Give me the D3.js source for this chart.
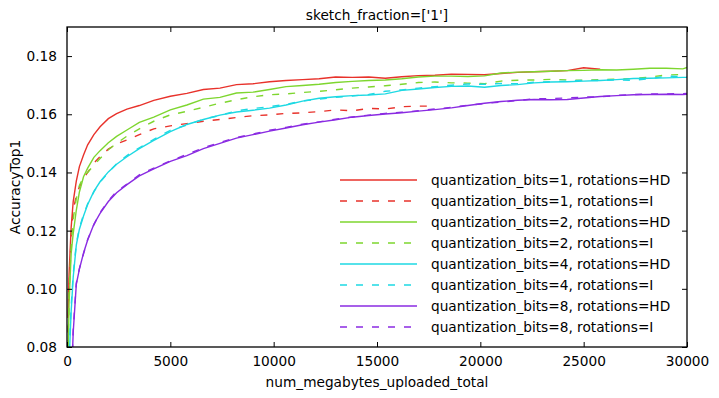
<!DOCTYPE html>
<meta charset="utf-8">
<style>
  body { margin: 0; background: #fff; }
  text { font-family: "DejaVu Sans", sans-serif; fill: #000; }
</style>
<body>
<div id="chart"></div>
<script src="https://d3js.org/d3.v7.min.js"></script>
<script>
// x positions (num_megabytes_uploaded_total) shared by all series
var xGrid = [50, 100, 200, 300, 450, 600, 800, 1000, 1300, 1600, 2000, 2400, 2900, 3500, 4200,
  5000, 5800, 6600, 7400, 8200, 9000, 9800, 10600, 11400, 12200, 13000, 13800, 14600, 15400,
  16200, 17000, 17800, 18600, 19400, 20200, 21000, 21800, 22600, 23400, 24200, 25000, 25800,
  26600, 27400, 28200, 29000, 29800, 30000];

// AccuracyTop1 per series
var bits1HD = [0.090, 0.105, 0.121, 0.130, 0.137, 0.142, 0.146, 0.1495, 0.153, 0.1557, 0.1585, 0.1602,
  0.1618, 0.1630, 0.1648, 0.1662, 0.1672, 0.1685, 0.1690, 0.1702, 0.1705, 0.1712, 0.1716, 0.1719,
  0.1722, 0.1728, 0.1727, 0.1728, 0.1724, 0.1729, 0.1733, 0.1734, 0.1738, 0.1737, 0.1736, 0.1740,
  0.1744, 0.1746, 0.1748, 0.1750, 0.1760, 0.1755];
var bits1I = [0.085, 0.100, 0.118, 0.127, 0.132, 0.135, 0.138, 0.140, 0.1432, 0.1455, 0.148, 0.1498,
  0.1512, 0.1530, 0.1550, 0.1560, 0.1568, 0.1576, 0.1582, 0.1589, 0.1595, 0.1598, 0.1603, 0.1605,
  0.1609, 0.1615, 0.1612, 0.1620, 0.1618, 0.1626, 0.1628, 0.1628];
var bits2HD = [0.075, 0.095, 0.112, 0.119, 0.127, 0.1333, 0.1385, 0.1415, 0.1452, 0.1475, 0.1502,
  0.1524, 0.1546, 0.1572, 0.1590, 0.1615, 0.1632, 0.1652, 0.1658, 0.1673, 0.1676, 0.1685, 0.1695,
  0.1699, 0.1703, 0.1709, 0.1713, 0.1716, 0.1718, 0.1722, 0.1728, 0.1731, 0.1731, 0.1730, 0.1732,
  0.1742, 0.1745, 0.1746, 0.1748, 0.1750, 0.1751, 0.1753, 0.1752, 0.1755, 0.1758, 0.1758, 0.1756, 0.1761];
var bits2I = [0.080, 0.098, 0.115, 0.124, 0.131, 0.1355, 0.1385, 0.1400, 0.1425, 0.1448, 0.1478,
  0.1500, 0.1525, 0.1550, 0.1576, 0.1598, 0.1610, 0.1624, 0.1638, 0.1650, 0.1660, 0.1667, 0.1670,
  0.1675, 0.1679, 0.1684, 0.1690, 0.1694, 0.1698, 0.1703, 0.1709, 0.1711, 0.1708, 0.1707, 0.1705,
  0.1714, 0.1717, 0.1718, 0.1720, 0.1718, 0.1717, 0.1719, 0.1721, 0.1723, 0.1728, 0.1735, 0.1737, 0.1738];
var bits4HD = [0.060, 0.075, 0.092, 0.104, 0.115, 0.1205, 0.125, 0.129, 0.1335, 0.1368, 0.1402,
  0.1428, 0.1454, 0.1482, 0.1510, 0.1540, 0.1565, 0.1582, 0.1597, 0.1608, 0.1614, 0.1621, 0.1632,
  0.1645, 0.1655, 0.1660, 0.1664, 0.1666, 0.1670, 0.1682, 0.1687, 0.1692, 0.1696, 0.1697, 0.1693,
  0.1699, 0.1702, 0.1708, 0.1711, 0.1712, 0.1714, 0.1716, 0.1719, 0.1723, 0.1724, 0.1725, 0.1727, 0.1727];
var bits4I = [0.062, 0.077, 0.094, 0.105, 0.1155, 0.121, 0.1255, 0.1292, 0.1333, 0.1367, 0.1400,
  0.1430, 0.1458, 0.1485, 0.1514, 0.1545, 0.1563, 0.1583, 0.1596, 0.1612, 0.1620, 0.1626, 0.1634,
  0.1646, 0.1652, 0.1658, 0.1663, 0.1668, 0.1679, 0.1684, 0.1690, 0.1695, 0.1700, 0.1704, 0.1703,
  0.1706, 0.1705, 0.1710, 0.1712, 0.1714, 0.1717, 0.1716, 0.1718, 0.1717, 0.1722, 0.1731, 0.1730, 0.1729];
var bits8HD = [0.040, 0.050, 0.065, 0.085, 0.1015, 0.1068, 0.1123, 0.1168, 0.1222, 0.1259, 0.1300,
  0.1330, 0.1358, 0.1388, 0.1412, 0.1438, 0.1458, 0.1482, 0.1500, 0.1518, 0.1530, 0.1542, 0.1553,
  0.1564, 0.1573, 0.1581, 0.1590, 0.1596, 0.1601, 0.1605, 0.1611, 0.1616, 0.1622, 0.1630, 0.1638,
  0.1644, 0.1648, 0.1651, 0.1650, 0.1651, 0.1656, 0.1661, 0.1664, 0.1667, 0.1668, 0.1669, 0.1668, 0.1669];
var bits8I = [0.040, 0.050, 0.066, 0.086, 0.1020, 0.1070, 0.1120, 0.1170, 0.1220, 0.1262, 0.1302,
  0.1335, 0.1360, 0.1392, 0.1415, 0.1440, 0.1462, 0.1485, 0.1503, 0.1520, 0.1532, 0.1545, 0.1555,
  0.1566, 0.1574, 0.1583, 0.1591, 0.1597, 0.1603, 0.1607, 0.1612, 0.1618, 0.1624, 0.1631, 0.1637,
  0.1642, 0.1647, 0.1653, 0.1654, 0.1656, 0.1659, 0.1660, 0.1665, 0.1668, 0.1670, 0.1670, 0.1671, 0.1672];

var seriesNames = ["quantization_bits=1, rotations=HD", "quantization_bits=1, rotations=I",
  "quantization_bits=2, rotations=HD", "quantization_bits=2, rotations=I",
  "quantization_bits=4, rotations=HD", "quantization_bits=4, rotations=I",
  "quantization_bits=8, rotations=HD", "quantization_bits=8, rotations=I"];
var seriesValues = [bits1HD, bits1I, bits2HD, bits2I, bits4HD, bits4I, bits8HD, bits8I];
var seriesColors = ["#e8322b", "#e8322b", "#7ed62f", "#7ed62f", "#1ed9e3", "#1ed9e3", "#8a2be2", "#8a2be2"];
var seriesDashed = [false, true, false, true, false, true, false, true];

var xTicks = [0, 5000, 10000, 15000, 20000, 25000, 30000];
var yTicks = [0.08, 0.10, 0.12, 0.14, 0.16, 0.18];

var fontSize = "13.7px";
var margin = {top: 27, right: 32, bottom: 51, left: 67},
    width = 719 - margin.left - margin.right,
    height = 398 - margin.top - margin.bottom;

var x = d3.scaleLinear().domain([0, 30000]).range([0, width]);
var y = d3.scaleLinear().domain([0.08, 0.19]).range([height, 0]);

var svg = d3.select("#chart").append("svg")
    .attr("width", 719)
    .attr("height", 398)
  .append("g")
    .attr("transform", "translate(" + margin.left + "," + margin.top + ")");

svg.append("clipPath").attr("id", "clip")
  .append("rect").attr("width", width).attr("height", height);

var line = d3.line()
    .x(function(d) { return x(d[0]); })
    .y(function(d) { return y(d[1]); });

var plot = svg.append("g").attr("clip-path", "url(#clip)");

seriesValues.forEach(function(vals, i) {
  var pts = vals.map(function(v, j) { return [xGrid[j], v]; });
  plot.append("path")
      .datum(pts)
      .attr("fill", "none")
      .attr("stroke", seriesColors[i])
      .attr("stroke-width", 1.4)
      .attr("stroke-dasharray", seriesDashed[i] ? "7,9" : null)
      .attr("d", line);
});

// axes, ticks pointing inward on all four sides
var tickLen = 5;
svg.append("g")
    .attr("transform", "translate(0," + height + ")")
    .call(d3.axisBottom(x).tickValues(xTicks).tickFormat(d3.format("d")).tickSizeInner(-tickLen).tickSizeOuter(0).tickPadding(9));
svg.append("g")
    .call(d3.axisTop(x).tickValues(xTicks).tickFormat("").tickSizeInner(-tickLen).tickSizeOuter(0));
svg.append("g")
    .call(d3.axisLeft(y).tickValues(yTicks).tickFormat(d3.format(".2f")).tickSizeInner(-tickLen).tickSizeOuter(0).tickPadding(10));
svg.append("g")
    .attr("transform", "translate(" + width + ",0)")
    .call(d3.axisRight(y).tickValues(yTicks).tickFormat("").tickSizeInner(-tickLen).tickSizeOuter(0));

svg.selectAll(".domain").remove();
svg.selectAll(".tick line").attr("stroke", "#000");
svg.selectAll(".tick text").style("font-size", fontSize).style("font-family", "'DejaVu Sans'").attr("fill", "#000");

svg.append("rect")
    .attr("width", width)
    .attr("height", height)
    .attr("fill", "none")
    .attr("stroke", "#000")
    .attr("stroke-width", 1.3);

// title and axis labels
svg.append("text")
    .attr("x", width / 2)
    .attr("y", -7)
    .style("text-anchor", "middle")
    .style("font-size", fontSize)
    .text("sketch_fraction=['1']");

svg.append("text")
    .attr("x", width / 2)
    .attr("y", height + 40)
    .style("text-anchor", "middle")
    .style("font-size", fontSize)
    .text("num_megabytes_uploaded_total");

svg.append("text")
    .attr("transform", "rotate(-90)")
    .attr("x", -height / 2)
    .attr("y", -47)
    .style("text-anchor", "middle")
    .style("font-size", fontSize)
    .text("AccuracyTop1");

// legend
var legend = svg.append("g").attr("transform", "translate(273,153)");
seriesNames.forEach(function(name, i) {
  var row = legend.append("g").attr("transform", "translate(0," + (i * 21) + ")");
  row.append("line")
      .attr("x1", 0).attr("x2", 77)
      .attr("stroke", seriesColors[i])
      .attr("stroke-width", 1.4)
      .attr("stroke-dasharray", seriesDashed[i] ? "7,9" : null);
  row.append("text")
      .attr("x", 91)
      .attr("y", 4.8)
      .style("font-size", fontSize)
      .text(name);
});
</script>
</body>
